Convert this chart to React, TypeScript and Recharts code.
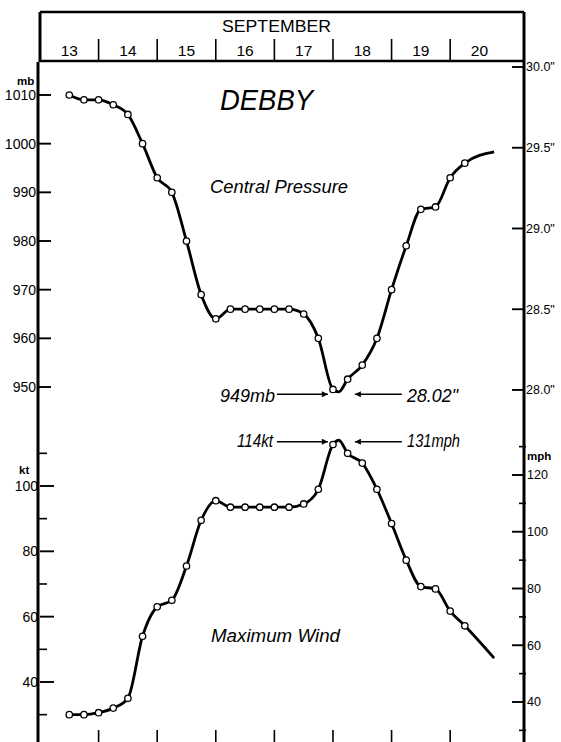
import { ComposedChart, Line, XAxis, YAxis, ReferenceLine } from 'recharts';

// 6-hourly fixes, time in days of September (13.5 = 13th 12Z)
const obsTimes = [13.5, 13.75, 14, 14.25, 14.5, 14.75, 15, 15.25, 15.5, 15.75, 16, 16.25, 16.5, 16.75, 17, 17.25, 17.5, 17.75, 18, 18.25, 18.5, 18.75, 19, 19.25, 19.5, 19.75, 20, 20.25];
const pressureMb = [1010, 1009, 1009, 1008, 1006, 1000, 993, 990, 980, 969, 964, 966, 966, 966, 966, 966, 965, 960, 949.5, 951.6, 954.5, 960, 970, 979, 986.5, 987, 993, 996];
const windKt = [30, 30, 30.6, 32, 35, 54, 63, 65, 75.5, 89.5, 95.5, 93.5, 93.5, 93.5, 93.5, 93.5, 94.5, 99, 112.7, 110, 107, 99, 88.5, 77.3, 69.2, 68.5, 61.7, 57.2];

// points on the curves with no fix drawn: the extreme, and where the traces stop
const extremeTime = 18.1;
const minPressure = 949;
const peakWind = 114;
const endTime = 20.75;
const endPressure = 998.3;
const endWind = 47.3;

const dayTicks = [14, 15, 16, 17, 18, 19, 20];
const dayLabels = [13, 14, 15, 16, 17, 18, 19, 20];
const mbTicks = [950, 960, 970, 980, 990, 1000, 1010];
const inchTicks = [28, 28.5, 29, 29.5, 30];
const ktTicks = [40, 60, 80, 100];
const ktMinor = [30, 50, 70, 90, 110];
const mphTicks = [40, 60, 80, 100, 120];
const mphMinor = [30, 50, 70, 90, 110, 130];

const rows = [
  ...obsTimes.map((t, i) => ({ t, p: pressureMb[i], w: windKt[i], obs: true })),
  { t: extremeTime, p: minPressure, w: peakWind, obs: false },
  { t: endTime, p: endPressure, w: endWind, obs: false },
].sort((a, b) => a.t - b.t);

const xDomain = [13, 21.26];
const ink = '#000';
const font = 'Liberation Sans, Arial, sans-serif';
const tickText = { fill: ink, fontSize: 14, fontFamily: font };
const rightText = { fill: ink, fontSize: 12.5, fontFamily: font };
const line = { stroke: ink, strokeWidth: 1.6 };
const majorLine = { stroke: ink, strokeWidth: 1.9 };
const axisLine = { stroke: ink, strokeWidth: 3 };
const blank = () => '';

const renderDot = (props: any) => {
  const { cx, cy, payload, index } = props;
  if (!payload.obs) return <g key={`n${index}`} />;
  return <circle key={`d${index}`} cx={cx} cy={cy} r={3.2} fill="#fff" stroke={ink} strokeWidth={1.3} />;
};

const Arrow = (props: any) => (
  <line x1={props.x1} y1={props.y1} x2={props.x2} y2={props.y2} stroke={ink} strokeWidth={1.5} markerEnd="url(#arrowHead)" />
);

const italic = { fontFamily: font, fontStyle: 'italic' as const, fill: ink };
const unit = { fontSize: 11.5, fontWeight: 600, fontFamily: font, fill: ink };

export default function App() {
  return (
    <div style={{ position: 'absolute', left: 0, top: 0, width: 561, height: 742, background: '#fff' }}>
      <div style={{ position: 'absolute', left: 0, top: 50 }}>
        {/* three 1px-wide axes on each side, so the plot still runs from x=40 to x=524 */}
        <ComposedChart width={561} height={692} data={rows} margin={{ top: 12, bottom: 0, left: 37, right: 34 }}>
          <defs>
            <marker id="arrowHead" viewBox="0 0 10 10" refX="10" refY="5" markerWidth="9" markerHeight="6" markerUnits="userSpaceOnUse" orient="auto">
              <path d="M0,0 L10,5 L0,10 z" fill={ink} />
            </marker>
          </defs>
          <XAxis dataKey="t" type="number" domain={xDomain} allowDataOverflow ticks={dayTicks} interval={0} mirror height={1}
            tickFormatter={blank} tickSize={12} axisLine={false} tickLine={line} />
          <YAxis yAxisId="p" width={1} type="number" domain={[877.06, 1016.78]} allowDataOverflow ticks={mbTicks} interval={0}
            tickSize={-13} tickMargin={15} axisLine={axisLine} tickLine={majorLine} tick={tickText} />
          <YAxis yAxisId="k" width={1} type="number" domain={[21.63, 229.79]} allowDataOverflow ticks={ktTicks} interval={0}
            tickSize={-14} tickMargin={16} axisLine={false} tickLine={majorLine} tick={tickText} />
          <YAxis yAxisId="k2" width={1} type="number" domain={[21.63, 229.79]} allowDataOverflow ticks={ktMinor} interval={0}
            tickSize={-8} tickFormatter={blank} axisLine={false} tickLine={line} />
          <YAxis yAxisId="in" orientation="right" width={1} type="number" domain={[25.82, 30.031]} allowDataOverflow ticks={inchTicks} interval={0}
            tickFormatter={(v: number) => `${v.toFixed(1)}"`}
            tickSize={-12} tickMargin={14} axisLine={axisLine} tickLine={majorLine} tick={rightText} />
          <YAxis yAxisId="m" orientation="right" width={1} type="number" domain={[25.9, 265.55]} allowDataOverflow ticks={mphTicks} interval={0}
            tickSize={-13} tickMargin={15} axisLine={false} tickLine={majorLine} tick={rightText} />
          <YAxis yAxisId="m2" orientation="right" width={1} type="number" domain={[25.9, 265.55]} allowDataOverflow ticks={mphMinor} interval={0}
            tickSize={-7} tickFormatter={blank} axisLine={false} tickLine={line} />

          <Line yAxisId="p" dataKey="p" type="monotone" stroke={ink} strokeWidth={2.8} dot={renderDot} activeDot={false} isAnimationActive={false} />
          <Line yAxisId="k" dataKey="w" type="monotone" stroke={ink} strokeWidth={2.8} dot={renderDot} activeDot={false} isAnimationActive={false} />

          <ReferenceLine yAxisId="p" segment={[{ x: extremeTime - 1.057, y: 948.5 }, { x: extremeTime - 0.187, y: 948.5 }]} shape={Arrow} />
          <ReferenceLine yAxisId="p" segment={[{ x: extremeTime + 1.075, y: 948.5 }, { x: extremeTime + 0.274, y: 948.5 }]} shape={Arrow} />
          <ReferenceLine yAxisId="k" segment={[{ x: extremeTime - 1.057, y: 113.56 }, { x: extremeTime - 0.187, y: 113.56 }]} shape={Arrow} />
          <ReferenceLine yAxisId="k" segment={[{ x: extremeTime + 1.075, y: 113.56 }, { x: extremeTime + 0.274, y: 113.56 }]} shape={Arrow} />

          <text x={220} y={60} fontSize={30} textLength={93} lengthAdjust="spacingAndGlyphs" {...italic}>DEBBY</text>
          <text x={210} y={143} fontSize={18} textLength={138} lengthAdjust="spacingAndGlyphs" {...italic}>Central Pressure</text>
          <text x={211} y={592} fontSize={18} textLength={129} lengthAdjust="spacingAndGlyphs" {...italic}>Maximum Wind</text>
          <text x={220} y={352} fontSize={18} textLength={55} lengthAdjust="spacingAndGlyphs" {...italic}>949mb</text>
          <text x={407} y={352} fontSize={18} textLength={51} lengthAdjust="spacingAndGlyphs" {...italic}>28.02"</text>
          <text x={237} y={397} fontSize={18} textLength={36} lengthAdjust="spacingAndGlyphs" {...italic}>114kt</text>
          <text x={407} y={397} fontSize={18} textLength={53} lengthAdjust="spacingAndGlyphs" {...italic}>131mph</text>

          <text x={17} y={35} {...unit}>mb</text>
          <text x={19} y={424} {...unit}>kt</text>
          <text x={527} y={410} {...unit}>mph</text>
        </ComposedChart>
      </div>

      <div style={{ position: 'absolute', left: 0, top: 0 }}>
        <ComposedChart width={561} height={64} data={rows} margin={{ top: 11, bottom: 2, left: 39, right: 36 }}>
          <XAxis xAxisId="frame" orientation="top" dataKey="t" type="number" domain={xDomain} allowDataOverflow height={1}
            ticks={[13]} tickFormatter={blank} tickLine={false} axisLine={{ stroke: ink, strokeWidth: 2.5 }} />
          <XAxis xAxisId="sep" dataKey="t" type="number" domain={xDomain} allowDataOverflow mirror height={1}
            ticks={dayTicks} interval={0} tickFormatter={blank} tickSize={22} tickLine={line} axisLine={{ stroke: ink, strokeWidth: 2.5 }} />
          <XAxis xAxisId="day" dataKey="t" type="number" domain={xDomain} allowDataOverflow mirror height={1}
            ticks={dayLabels.map((d) => d + 0.5)} interval={0} tickFormatter={(v: number) => String(Math.floor(v))}
            tickLine={false} tickSize={0} tickMargin={6} axisLine={false} tick={{ fill: ink, fontSize: 15.5, fontFamily: font }} />
          <YAxis yAxisId="l" width={1} type="number" domain={[0, 1]} allowDataOverflow tickFormatter={blank} tickLine={false} axisLine={axisLine} />
          <YAxis yAxisId="r" orientation="right" width={1} type="number" domain={[0, 1]} allowDataOverflow tickFormatter={blank} tickLine={false} axisLine={axisLine} />
          <text x={222} y={32} fontSize={17} textLength={109} lengthAdjust="spacingAndGlyphs" fontFamily={font} fill={ink}>SEPTEMBER</text>
        </ComposedChart>
      </div>
    </div>
  );
}
